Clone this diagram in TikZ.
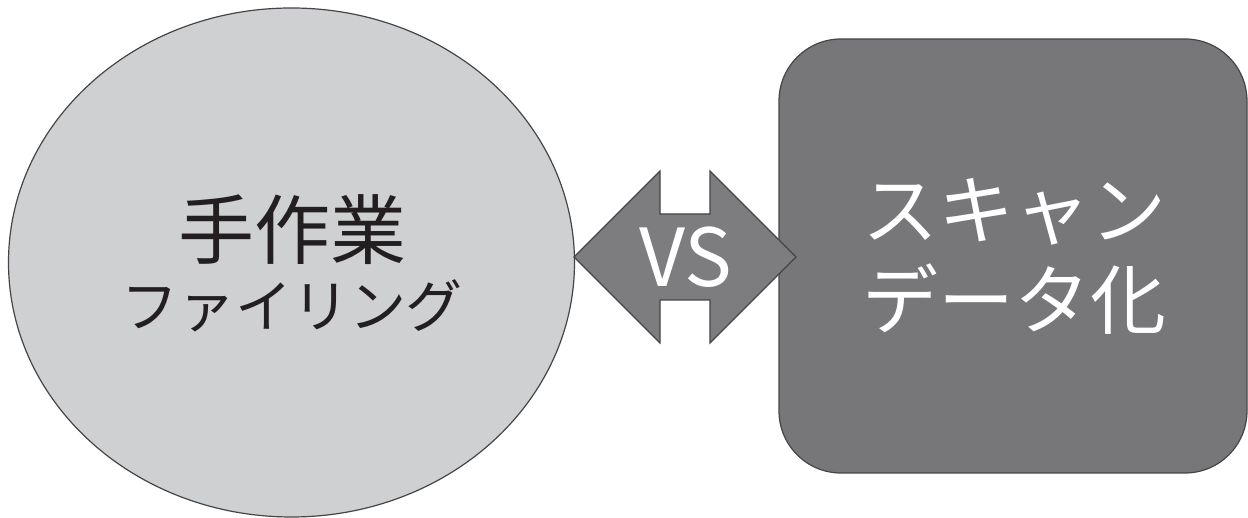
\documentclass[tikz,border=0pt]{standalone}
\usepackage{fontspec}
\usepackage{tikz}
\usetikzlibrary{positioning, shapes.geometric}

\newfontfamily\jpfont{Noto Sans CJK JP}

\definecolor{paperfill}{HTML}{CFD0D2}
\definecolor{scanfill}{HTML}{77777A}
\definecolor{vsfill}{HTML}{7D7D80}
\definecolor{edgegray}{HTML}{454547}
\definecolor{inkblack}{HTML}{231F20}

\tikzset{
  manual/.style={ellipse, draw=edgegray, line width=1.2pt, fill=paperfill,
    minimum width=566pt, minimum height=509pt, inner sep=0pt},
  scan/.style={rectangle, rounded corners=62pt, draw=edgegray, line width=1.2pt,
    fill=scanfill, minimum width=468pt, minimum height=434pt, inner sep=0pt},
  vsarrow/.style={draw=edgegray, line width=1.2pt, fill=vsfill, line join=miter},
  vslabel/.style={text=white, inner sep=0pt, font=\jpfont\fontsize{80}{80}\selectfont},
  biglabel/.style={font=\jpfont\fontsize{76}{76}\selectfont, inner sep=0pt},
  smalllabel/.style={font=\jpfont\fontsize{57}{57}\selectfont, inner sep=0pt}
}

\begin{document}
\begin{tikzpicture}[x=1pt, y=1pt]
    \useasboundingbox (0,0) rectangle (1248,518);

    % Left and right blocks
    \node[manual] (hand) at (291.5,255.5) {};
    \node[scan] (scan) at (1013,262) {};

    % Labels inside the blocks
    \node[biglabel, text=inkblack] (handtop) at (292,288) {手作業};
    \node[smalllabel, text=inkblack, below=14pt of handtop] (handbot) {ファイリング};
    \node[biglabel, text=white] (scantop) at (1014,306) {スキャン};
    \node[biglabel, text=white, below=18pt of scantop] (scanbot) {データ化};

    % Versus arrow between the two, pointing both ways
    \coordinate (vs) at (685.5,261);
    \draw[vsarrow] (vs) ++(-111.5,0) -- ++(86,86) -- ++(0,-43) -- ++(50,0)
        -- ++(0,43) -- ++(86,-86) -- ++(-86,-86) -- ++(0,43) -- ++(-50,0)
        -- ++(0,-43) -- cycle;
    \node[vslabel] (vstext) at (vs) {VS};

\end{tikzpicture}
\end{document}
